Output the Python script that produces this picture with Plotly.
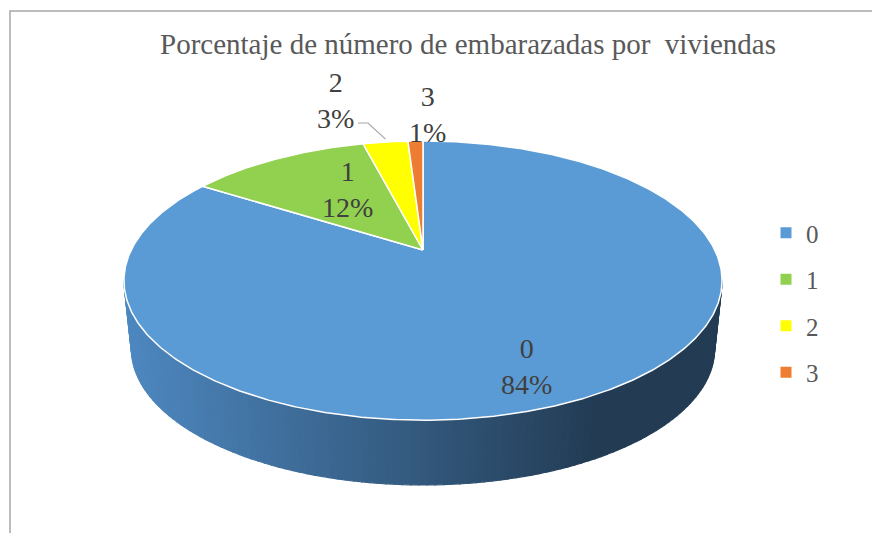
import numpy as np
import plotly.graph_objects as go

# ---- data ----
categories = ["0", "1", "2", "3"]
values = [84, 12, 3, 1]
colors = ["#5b9bd5", "#92d050", "#ffff00", "#ed7d31"]
title_text = "Porcentaje de número de embarazadas por  viviendas"

SERIF = "Liberation Serif, Times New Roman, Times, serif"
OFF = 8  # page body margin

# ---- geometry of the tilted (perspective) pie, in page-pixel axis units ----
CX, CY = 423.0, 250.0      # apex of top face
S, SH, K = 291.8, 132.9, 0.219
DEPTH, BSCALE = 69.0, 0.975


def proj(theta_deg, r=1.0, dy=0.0, scale=1.0):
    t = np.radians(theta_deg)
    u, v = r * np.sin(t), r * np.cos(t)
    d = 1 + K * v
    return CX + scale * S * u / d, CY + dy - scale * SH * v / d


total = float(sum(values))
fracs = [v / total for v in values]
starts = np.cumsum([0] + fracs[:-1]) * 360.0
ends = np.cumsum(fracs) * 360.0

fig = go.Figure()

# side wall (front), shaded strips
t_ext = np.degrees(np.arccos(-K))  # silhouette angle
thetas = np.linspace(t_ext, 360 - t_ext, 120)
c_light = np.array([78, 136, 192])
c_dark = np.array([35, 60, 84])
for i in range(len(thetas) - 1):
    a0, a1 = thetas[i], thetas[i + 1]
    x0t, y0t = proj(a0)
    x1t, y1t = proj(a1)
    x0b, y0b = proj(a0, dy=DEPTH, scale=BSCALE)
    x1b, y1b = proj(a1, dy=DEPTH, scale=BSCALE)
    xm = (x0t + x1t) / 2
    f = np.clip((xm - 125) / (600 - 125), 0, 1)
    c = c_light + (c_dark - c_light) * f
    col = "rgb(%d,%d,%d)" % tuple(c)
    fig.add_trace(go.Scatter(
        x=[x0t, x1t, x1b, x0b, x0t], y=[y0t, y1t, y1b, y0b, y0t],
        fill="toself", fillcolor=col, mode="lines",
        line=dict(color=col, width=1.2), hoverinfo="skip", showlegend=False))

# top face slices
for cat, s, e, col in zip(categories, starts, ends, colors):
    ang = np.linspace(s, e, max(4, int((e - s) * 2)))
    xs, ys = proj(ang)
    x = np.concatenate([[CX], xs, [CX]])
    y = np.concatenate([[CY], ys, [CY]])
    fig.add_trace(go.Scatter(
        x=x, y=y, fill="toself", fillcolor=col, mode="lines",
        line=dict(color="white", width=1.5), hoverinfo="skip", showlegend=False))

# legend entries
for i, (cat, col) in enumerate(zip(categories, colors)):
    fig.add_trace(go.Scatter(
        x=[None], y=[None], mode="markers", name=cat, legendgroup=cat,
        marker=dict(symbol="square", size=11, color=col)))

# data labels
pcts = [round(f * 100) for f in fracs]
label_pos = [(526, 366), (347, 189), (335, 100), (427, 114)]
for cat, p, (lx, ly) in zip(categories, pcts, label_pos):
    fig.add_annotation(x=lx, y=ly, text=f"{cat}<br>{p}%", showarrow=False,
                       font=dict(family=SERIF, size=28, color="#404040"),
                       xanchor="center", yanchor="middle")

# leader line for slice "2"
mid2 = (starts[2] + ends[2]) / 2
lx2, ly2 = proj(mid2, r=1.0)
fig.add_shape(type="path",
              path=f"M 358 123 L 368 123 L {lx2:.1f} {ly2 - 3:.1f}",
              line=dict(color="#a6a6a6", width=1.2))

# chart border
fig.add_shape(type="rect", x0=10, y0=11, x1=900, y1=560,
              line=dict(color="#a6a6a6", width=1.5))

W, H = 880, 533
fig.update_layout(
    width=W, height=H, autosize=False,
    margin=dict(l=0, r=0, t=0, b=0),
    paper_bgcolor="white", plot_bgcolor="white",
    title=dict(text=title_text, x=(468 - OFF) / W, xanchor="center",
               y=1 - (44 - OFF) / H, yanchor="middle",
               font=dict(family=SERIF, size=29, color="#595959")),
    xaxis=dict(range=[OFF, W + OFF], visible=False, fixedrange=True),
    yaxis=dict(range=[H + OFF, OFF], visible=False, fixedrange=True),
    legend=dict(x=(766 - OFF) / W, y=1 - (210 - OFF) / H, xanchor="left", yanchor="top",
                font=dict(family=SERIF, size=25, color="#595959"),
                tracegroupgap=11, itemwidth=30, bgcolor="rgba(0,0,0,0)"),
    showlegend=True,
)

fig.write_html("out.html")
